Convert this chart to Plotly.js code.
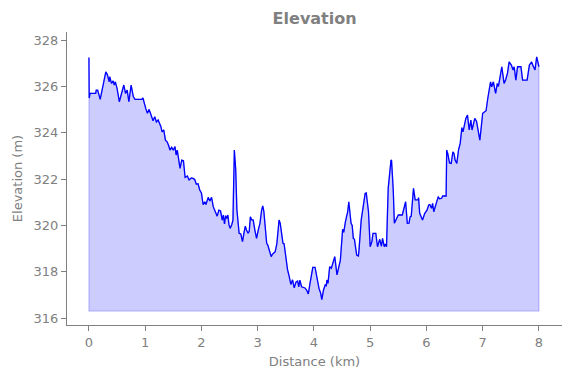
<!DOCTYPE html>
<html>
<head>
<meta charset="utf-8">
<script src="https://cdn.plot.ly/plotly-3.0.1.min.js"></script>
<style>html,body{margin:0;padding:0;background:#fff;}#chart{width:571px;height:378px;}</style>
</head>
<body>
<div id="chart"></div>
<script>
const distance_km = [0.0,0.005,0.02,0.12,0.13,0.155,0.2,0.30,0.33,0.36,0.37,0.40,0.43,0.45,0.47,0.50,0.54,0.58,0.62,0.65,0.68,0.71,0.75,0.79,0.82,0.94,0.96,1.01,1.04,1.07,1.11,1.14,1.17,1.20,1.23,1.28,1.30,1.33,1.36,1.39,1.42,1.44,1.47,1.50,1.53,1.55,1.57,1.62,1.65,1.68,1.71,1.75,1.78,1.80,1.82,1.85,1.88,1.91,1.94,1.97,2.00,2.03,2.06,2.08,2.12,2.15,2.18,2.21,2.26,2.28,2.31,2.34,2.37,2.39,2.41,2.43,2.45,2.47,2.49,2.51,2.54,2.56,2.585,2.61,2.63,2.65,2.67,2.70,2.73,2.76,2.78,2.80,2.83,2.85,2.87,2.89,2.92,2.95,2.98,3.01,3.04,3.07,3.09,3.11,3.13,3.16,3.18,3.22,3.24,3.26,3.29,3.31,3.34,3.37,3.38,3.40,3.43,3.45,3.47,3.50,3.53,3.56,3.59,3.62,3.65,3.68,3.71,3.73,3.75,3.78,3.84,3.87,3.90,3.93,3.98,4.02,4.05,4.09,4.12,4.14,4.17,4.20,4.22,4.23,4.25,4.28,4.31,4.37,4.41,4.44,4.47,4.51,4.53,4.56,4.60,4.62,4.66,4.68,4.70,4.72,4.76,4.79,4.80,4.84,4.87,4.91,4.93,4.97,5.00,5.03,5.05,5.10,5.13,5.17,5.20,5.22,5.25,5.27,5.29,5.32,5.37,5.38,5.41,5.43,5.47,5.50,5.57,5.60,5.63,5.66,5.69,5.71,5.73,5.77,5.80,5.85,5.86,5.88,5.91,5.93,5.97,6.01,6.04,6.06,6.09,6.11,6.13,6.16,6.21,6.23,6.27,6.29,6.35,6.36,6.38,6.41,6.44,6.47,6.49,6.51,6.54,6.57,6.60,6.63,6.65,6.70,6.73,6.76,6.79,6.81,6.86,6.89,6.95,7.00,7.04,7.06,7.09,7.11,7.14,7.16,7.19,7.23,7.26,7.28,7.31,7.34,7.38,7.41,7.44,7.47,7.51,7.54,7.56,7.59,7.62,7.68,7.71,7.79,7.83,7.87,7.89,7.93,7.96,7.99,8.0];
const elevation_m = [327.25,325.5,325.7,325.7,325.84,325.84,325.44,326.63,326.49,326.2,326.42,326.13,326.24,326.06,326.2,325.92,325.34,325.77,326.06,325.7,325.84,325.34,326.06,325.55,325.44,325.44,325.5,325.05,324.84,325.01,324.69,324.52,324.69,324.47,324.55,324.26,324.04,324.12,323.68,323.61,323.43,323.25,323.37,323.25,323.40,323.04,323.25,322.46,322.82,322.79,322.07,322.13,321.96,322.03,322.05,322.03,321.98,321.78,321.8,321.53,321.4,320.9,321.02,320.9,321.21,321.05,321.21,320.81,320.45,320.4,320.66,320.62,320.23,320.45,320.06,320.42,320.3,320.45,320.02,319.87,320.04,320.23,323.25,322.39,320.7,319.94,319.66,319.63,319.30,319.73,319.97,319.8,319.66,319.75,320.37,320.25,320.23,319.8,319.44,319.8,320.09,320.66,320.84,320.6,319.94,319.23,319.15,318.8,318.65,318.75,318.82,318.86,319.2,320.16,320.23,320.1,319.5,319.23,319.2,318.5,318.1,317.8,317.45,317.65,317.3,317.55,317.6,317.35,317.64,317.35,317.3,317.21,317.04,317.5,318.19,318.19,317.79,317.28,317.07,316.8,317.21,317.43,317.4,317.64,317.5,318.22,318.15,318.65,317.86,318.19,318.5,319.83,319.7,320.16,320.59,321.02,320.09,320.0,319.44,319.4,318.72,318.68,318.9,320.23,320.81,321.38,321.4,320.59,319.08,319.30,319.66,319.66,319.08,319.40,319.1,319.44,319.08,319.2,319.08,321.6,322.82,322.8,321.53,320.09,320.30,320.45,320.45,320.81,321.02,320.09,320.1,320.37,320.4,321.6,321.1,321.1,321.2,320.52,320.37,320.23,320.52,320.66,320.88,320.9,320.74,320.95,320.59,320.8,321.24,321.15,321.17,321.27,321.27,323.25,323.1,322.7,322.68,323.18,323.1,322.82,322.68,323.25,323.54,324.22,324.04,324.62,324.76,324.12,324.55,324.12,324.62,324.5,323.68,324.84,324.91,324.95,325.48,325.84,326.2,325.98,326.2,325.7,326.13,326.0,326.42,326.85,326.13,326.3,326.56,327.06,326.92,326.71,326.85,326.27,326.85,326.85,326.27,326.27,326.92,327.06,326.92,326.71,327.28,326.92,326.85];
const x_ticks = [0,1,2,3,4,5,6,7,8];
const y_ticks = [316,318,320,322,324,326,328];
const chart_title = 'Elevation';
const x_title = 'Distance (km)';
const y_title = 'Elevation (m)';

const baseline = Math.min(...elevation_m) - 0.5;
const xFirst = distance_km[0], xLast = distance_km[distance_km.length-1];

const fillX = distance_km.concat([xLast, xFirst, xFirst]);
const fillY = elevation_m.concat([baseline, baseline, elevation_m[0]]);

const gray = '#808080';
const font = 'DejaVu Sans, sans-serif';

const traces = [
  {x: fillX, y: fillY, type: 'scatter', mode: 'lines', fill: 'toself',
   fillcolor: 'rgba(0,0,255,0.2)', line: {color: 'rgba(0,0,255,0.2)', width: 1.3},
   hoverinfo: 'skip', showlegend: false},
  {x: distance_km, y: elevation_m, type: 'scatter', mode: 'lines',
   line: {color: '#0000ff', width: 1.3}, showlegend: false}
];

const layout = {
  width: 571, height: 378,
  margin: {l: 67, r: 9, t: 32, b: 53},
  paper_bgcolor: '#fff', plot_bgcolor: '#fff',
  font: {family: font, size: 13, color: gray},
  title: {text: '<b>' + chart_title + '</b>', font: {family: font, size: 16, color: gray},
          x: 0.551, xref: 'container', xanchor: 'center', y: 1 - 18/378, yref: 'container', yanchor: 'middle'},
  xaxis: {range: [-0.39, 8.41], tickvals: x_ticks, ticktext: x_ticks.map(String),
          showline: true, linecolor: gray, linewidth: 1, ticks: 'outside', ticklen: 5, tickcolor: gray,
          showgrid: false, zeroline: false, tickfont: {size: 13, color: gray},
          title: {text: x_title, font: {size: 13, color: gray}, standoff: 8}},
  yaxis: {range: [315.70, 328.35], tickvals: y_ticks, ticktext: y_ticks.map(String),
          showline: true, linecolor: gray, linewidth: 1, ticks: 'outside', ticklen: 5, tickcolor: gray,
          showgrid: false, zeroline: false, tickfont: {size: 13, color: gray},
          title: {text: y_title, font: {size: 13, color: gray}, standoff: 8}}
};

Plotly.newPlot('chart', traces, layout, {staticPlot: true, displayModeBar: false});
</script>
</body>
</html>
